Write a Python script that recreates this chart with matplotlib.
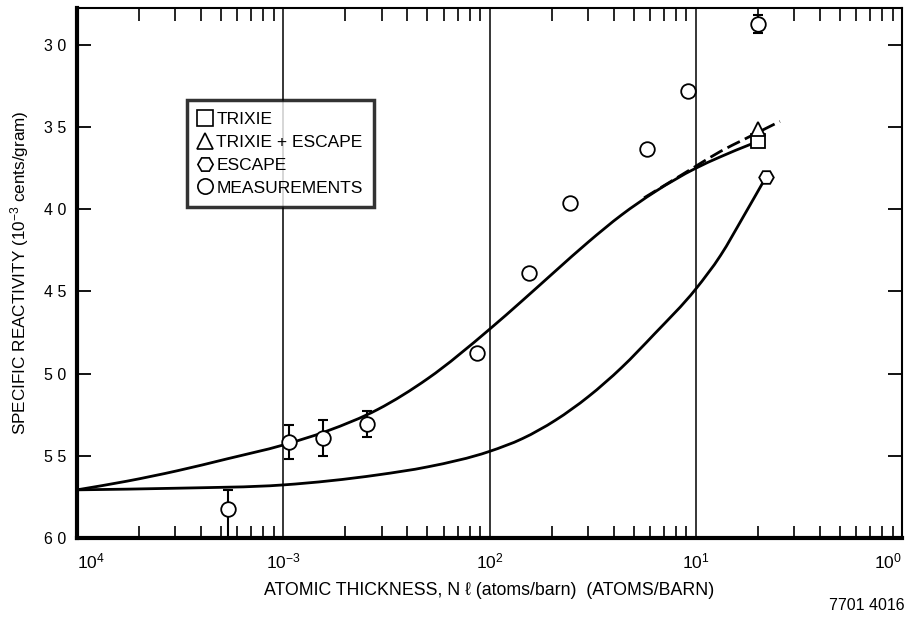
import matplotlib
matplotlib.use('Agg')
import matplotlib.pyplot as plt
import numpy as np
from matplotlib.path import Path
from matplotlib.patches import PathPatch
from matplotlib.ticker import FixedLocator, NullFormatter, LogLocator

plt.rcParams['font.family'] = ['Liberation Sans', 'DejaVu Sans']
plt.rcParams['mathtext.fontset'] = 'custom'
plt.rcParams['mathtext.rm'] = 'Liberation Sans'
plt.rcParams['mathtext.it'] = 'Liberation Sans:italic'

# measured specific reactivity with uncertainties
meas_x = [5.4e-4, 1.07e-3, 1.55e-3, 2.54e-3, 8.7e-3, 1.56e-2, 2.46e-2, 5.8e-2, 9.2e-2, 0.20]
meas_y = [58.24, 54.18, 53.9, 53.07, 48.75, 43.88, 39.64, 36.36, 32.79, 28.75]
err_minus = [1.15, 1.03, 1.1, 0.78, 0, 0, 0, 0, 0, 0.55]
err_plus = [2.0, 1.03, 1.1, 0.78, 0, 0, 0, 0, 0, 0.55]

# TRIXIE calculation
trixie_x = [1e-4, 1.75e-4, 3.06e-4, 5.36e-4, 1e-3, 1.64e-3, 2.87e-3, 5.02e-3,
            1e-2, 1.445e-2, 2.09e-2, 3.02e-2, 4.37e-2, 6.31e-2, 0.1, 0.132, 0.184, 0.2]
trixie_y = [57.07, 56.54, 55.91, 55.18, 54.34, 53.48, 52.18, 50.3,
            47.3, 45.55, 43.75, 41.98, 40.34, 38.95, 37.5, 36.8, 36.05, 35.87]

# TRIXIE + ESCAPE, drawn where it leaves the TRIXIE curve
tresc_x = [5.62e-2, 7.94e-2, 0.1, 0.132, 0.1706, 0.213, 0.256]
tresc_y = [39.3, 38.15, 37.38, 36.47, 35.76, 35.15, 34.65]

# ESCAPE calculation
escape_x = [1e-4, 3.06e-4, 1e-3, 2.87e-3, 5.02e-3, 1e-2, 1.445e-2, 2.09e-2,
            3.02e-2, 4.37e-2, 6.31e-2, 0.1, 0.132, 0.1706, 0.219]
escape_y = [57.07, 56.97, 56.77, 56.16, 55.67, 54.73, 53.95, 52.83,
            51.39, 49.63, 47.58, 44.85, 42.8, 40.42, 38.04]

trixie_pt = (0.2, 35.87)
tresc_pt = (0.2, 35.1)
escape_pt = (0.219, 38.04)

ytick_vals = [30, 35, 40, 45, 50, 55, 60]
ytick_labels = ['3 0', '3 5', '4 0', '4 5', '5 0', '5 5', '6 0']
xtick_vals = [1e-4, 1e-3, 1e-2, 1e-1, 1e0]
xtick_labels = ['10$^{4}$', '10$^{-3}$', '10$^{2}$', '10$^{1}$', '10$^{0}$']


def smooth_path(xs, ys):
    # cubic Hermite through the points, y as a function of log10(x),
    # written out as Bezier segments so the axes transform places it
    u = np.log10(xs)
    y = np.asarray(ys, dtype=float)
    h = np.diff(u)
    d = np.diff(y) / h
    m = np.empty_like(y)
    m[0], m[-1] = d[0], d[-1]
    m[1:-1] = (d[:-1] * h[1:] + d[1:] * h[:-1]) / (h[:-1] + h[1:])
    verts = [(u[0], y[0])]
    codes = [Path.MOVETO]
    for i in range(len(u) - 1):
        verts += [(u[i] + h[i] / 3, y[i] + m[i] * h[i] / 3),
                  (u[i + 1] - h[i] / 3, y[i + 1] - m[i + 1] * h[i] / 3),
                  (u[i + 1], y[i + 1])]
        codes += [Path.CURVE4] * 3
    verts = np.array(verts)
    verts[:, 0] = 10 ** verts[:, 0]
    return Path(verts, codes)


fig = plt.figure(figsize=(9.14, 6.18), dpi=100)
ax = fig.add_axes([77 / 914, 1 - 538 / 618, 825 / 914, 530 / 618])

ax.set_xscale('log')
ax.set_xlim(1e-4, 1e0)
ax.set_ylim(60, 27.75)

# decade lines
for xv in [1e-3, 1e-2, 1e-1]:
    ax.axvline(xv, color='black', lw=1.1, zorder=1)

ax.add_patch(PathPatch(smooth_path(trixie_x, trixie_y), fill=False, ec='black',
                       lw=2.0, zorder=3))
ax.add_patch(PathPatch(smooth_path(escape_x, escape_y), fill=False, ec='black',
                       lw=2.0, zorder=3))
ax.add_patch(PathPatch(smooth_path(tresc_x, tresc_y), fill=False, ec='black',
                       lw=2.0, ls=(0, (5, 2)), zorder=3))

mk = dict(mfc='white', mec='black', mew=1.3, ms=10.5, ls='none', zorder=5)
ax.plot(*trixie_pt, marker='s', **mk)
ax.plot(*tresc_pt, marker='^', **mk)
ax.plot(*escape_pt, marker='H', **mk)

idx = [i for i in range(len(meas_x)) if err_minus[i] > 0]
ax.errorbar([meas_x[i] for i in idx], [meas_y[i] for i in idx],
            yerr=[[err_minus[i] for i in idx], [err_plus[i] for i in idx]],
            fmt='none', ecolor='black', elinewidth=1.5, capsize=3.5, capthick=1.5,
            zorder=4)
ax.plot(meas_x, meas_y, marker='o', **mk)

# legend entries
lk = dict(mfc='white', mec='black', mew=1.2, ms=11, ls='none')
h_sq, = ax.plot([], [], marker='s', **lk)
h_tr, = ax.plot([], [], marker='^', **lk)
h_hx, = ax.plot([], [], marker='H', **lk)
h_ci, = ax.plot([], [], marker='o', **lk)
leg = ax.legend([h_sq, h_tr, h_hx, h_ci],
                ['TRIXIE', 'TRIXIE + ESCAPE', 'ESCAPE', 'MEASUREMENTS'],
                loc='upper left', bbox_to_anchor=(0.133, 0.826), fontsize=12.5,
                frameon=True, fancybox=False, handlelength=0.8, handletextpad=0.25,
                borderpad=0.65, labelspacing=0.45, borderaxespad=0)
leg.get_frame().set_edgecolor('black')
leg.get_frame().set_linewidth(2.5)
leg.set_zorder(6)

ax.yaxis.set_major_locator(FixedLocator(ytick_vals))
ax.set_yticklabels(ytick_labels, fontsize=11.5)
ax.tick_params(axis='y', which='major', direction='in', length=10, width=1.3,
               left=True, right=True, pad=8)

ax.xaxis.set_major_locator(FixedLocator(xtick_vals))
ax.xaxis.set_minor_locator(LogLocator(base=10, subs=range(2, 10), numticks=20))
ax.xaxis.set_minor_formatter(NullFormatter())
ax.set_xticklabels(xtick_labels, fontsize=12.5)
ax.tick_params(axis='x', which='major', length=0, pad=10)
ax.tick_params(axis='x', which='minor', direction='in', length=9, width=1.2,
               bottom=True, top=True)
xlabs = ax.get_xticklabels()
xlabs[0].set_ha('left')
xlabs[-1].set_ha('right')

for side, w in [('left', 3.0), ('bottom', 3.0), ('top', 1.5), ('right', 1.5)]:
    ax.spines[side].set_linewidth(w)

ax.set_xlabel('ATOMIC THICKNESS, N \u2113 (atoms/barn)  (ATOMS/BARN)', fontsize=12.8,
              labelpad=7)
ax.set_ylabel('SPECIFIC REACTIVITY (10$^{-3}$ cents/gram)', fontsize=12.3, labelpad=9)

fig.text(905 / 914, 1 - 605 / 618, '7701 4016', ha='right', va='center', fontsize=11.5)

fig.savefig('out.png', dpi=100)
